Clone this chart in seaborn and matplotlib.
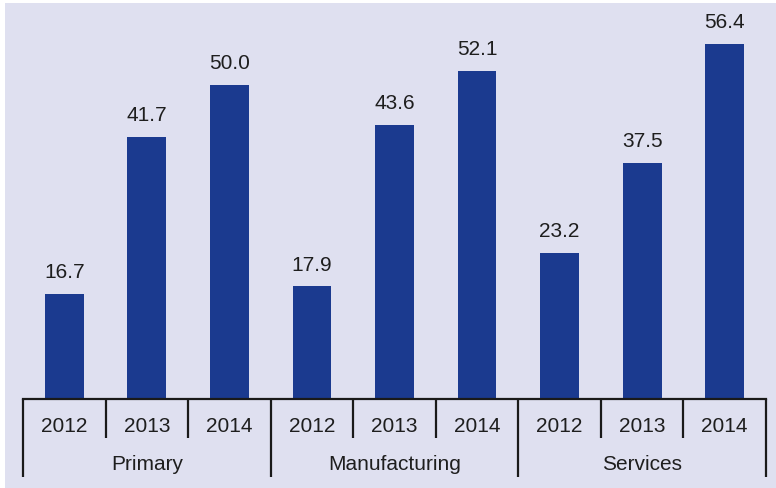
import matplotlib
matplotlib.use("Agg")
import matplotlib.pyplot as plt
import matplotlib.transforms as mtransforms
from matplotlib.patches import Rectangle
import seaborn as sns
import pandas as pd

sectors = ["Primary", "Manufacturing", "Services"]
years = ["2012", "2013", "2014"]
primary = [16.7, 41.7, 50.0]
manufacturing = [17.9, 43.6, 52.1]
services = [23.2, 37.5, 56.4]

values = primary + manufacturing + services
rows = []
for si, s in enumerate(sectors):
    for yi, y in enumerate(years):
        rows.append({"key": f"{s}-{y}", "sector": s, "year": y, "value": values[si * 3 + yi]})
df = pd.DataFrame(rows)

sns.set_theme(style="white")
plt.rcParams["font.family"] = ["Liberation Sans", "DejaVu Sans"]

W, H = 776, 488
fig = plt.figure(figsize=(W / 100, H / 100), dpi=100)
fig.patch.set_facecolor("white")
bg = "#dfe0f0"
fig.add_artist(Rectangle((5 / W, 0), 1, (H - 3) / H, transform=fig.transFigure,
                         facecolor=bg, edgecolor="none", zorder=0))

ax = fig.add_axes([23 / W, (H - 399) / H, 743 / W, 396 / H])
ax.set_facecolor("none")

bar_color = "#1b3a8f"
sns.barplot(data=df, x="key", y="value", color=bar_color, width=0.47,
            saturation=1, ax=ax, order=list(df["key"]), linewidth=0, edgecolor="none")

ax.set_ylim(0, 396 / 6.29)
ax.set_xlim(-0.5, len(df) - 0.5)
for sp in ["top", "right", "left"]:
    ax.spines[sp].set_visible(False)
ax.spines["bottom"].set_color("#1a1a1a")
ax.spines["bottom"].set_linewidth(1.6)
ax.set_xlabel("")
ax.set_ylabel("")
ax.set_yticks([])
ax.set_xticks([])

text_color = "#1e1e1e"
for i, v in enumerate(df["value"]):
    ax.annotate(f"{v:.1f}", xy=(i, v), xytext=(0, 8.5), textcoords="offset points",
                ha="center", va="bottom", fontsize=15, color=text_color)

trans = mtransforms.blended_transform_factory(ax.transData, ax.transAxes)
ax_h = 396
def ay(py):
    # pixel offset below axis -> axes fraction
    return -py / ax_h

for i, y in enumerate(df["year"]):
    ax.text(i, ay(27.5), y, transform=trans, ha="center", va="center",
            fontsize=15, color=text_color)
for si, s in enumerate(sectors):
    ax.text(si * 3 + 1, ay(66), s, transform=trans, ha="center", va="center",
            fontsize=15, color=text_color)

for k in range(len(df) + 1):
    x = k - 0.5
    depth = 78 if k % 3 == 0 else 39
    ax.plot([x, x], [0, ay(depth)], transform=trans, color="#1a1a1a",
            lw=1.6, clip_on=False, solid_capstyle="butt")

fig.savefig("out.png", dpi=100, facecolor=fig.get_facecolor())
